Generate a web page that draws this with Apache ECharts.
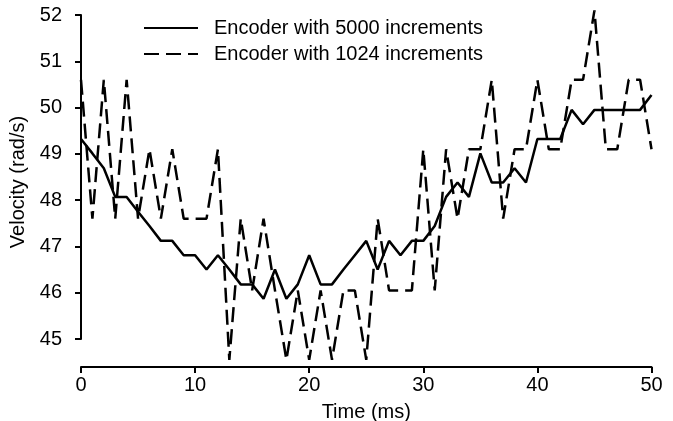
<!DOCTYPE html>
<html>
<head>
<meta charset="utf-8">
<script src="https://cdn.jsdelivr.net/npm/echarts@6/dist/echarts.min.js"></script>
<style>
  html, body { margin: 0; padding: 0; background: #fff; }
  #chart { width: 673px; height: 421px; }
</style>
</head>
<body>
<div id="chart"></div>
<script>
// Time (ms)
const times = [0,1,2,3,4,5,6,7,8,9,10,11,12,13,14,15,16,17,18,19,20,21,22,23,24,25,
  26,27,28,29,30,31,32,33,34,35,36,37,38,39,40,41,42,43,44,45,46,47,48,49,50];

// Encoder with 5000 increments (rad/s)
const enc5000 = [49.32,49.01,48.69,48.07,48.07,47.75,47.44,47.12,47.12,46.81,
  46.81,46.50,46.81,46.50,46.18,46.18,45.87,46.50,45.87,46.18,
  46.81,46.18,46.18,46.50,46.81,47.12,46.50,47.12,46.81,47.12,
  47.12,47.44,48.07,48.38,48.07,49.01,48.38,48.38,48.69,48.38,
  49.32,49.32,49.32,49.95,49.64,49.95,49.95,49.95,49.95,49.95,50.27];

// Encoder with 1024 increments (rad/s)
const enc1024 = [50.6,47.6,50.6,47.6,50.6,47.6,49.1,47.6,49.1,47.6,
  47.6,47.6,49.1,44.55,47.6,46.05,47.6,46.05,44.55,46.05,
  44.55,46.05,44.55,46.05,46.05,44.55,47.6,46.05,46.05,46.05,
  49.1,46.05,49.1,47.6,49.1,49.1,50.6,47.6,49.1,49.1,
  50.6,49.1,49.1,50.6,50.6,52.1,49.1,49.1,50.6,50.6,49.1];

const seriesNames = ['Encoder with 5000 increments', 'Encoder with 1024 increments'];
const xTicks = { min: 0, max: 50, interval: 10 };
const yTicks = { min: 45, max: 52, interval: 1 };

const FONT = '"Liberation Sans", Arial, Helvetica, sans-serif';
const chart = echarts.init(document.getElementById('chart'), null, { renderer: 'canvas' });

const axisCommon = {
  axisLine: { show: true, lineStyle: { color: '#000', width: 2 } },
  axisTick: { show: true, length: 6, lineStyle: { color: '#000', width: 2 } },
  splitLine: { show: false },
  nameLocation: 'middle'
};

chart.setOption({
  animation: false,
  backgroundColor: '#fff',
  textStyle: { fontFamily: FONT, color: '#000' },
  grid: { left: 81, right: 21.5, top: 15, bottom: 82, containLabel: false, outerBoundsMode: 'none' },
  legend: {
    orient: 'vertical',
    left: 143,
    top: 18,
    padding: 0,
    itemWidth: 54,
    itemHeight: 14,
    itemGap: 6,
    itemStyle: { color: 'rgba(0,0,0,0)', borderWidth: 0, opacity: 0 },
    textStyle: { color: '#000', fontSize: 20, fontFamily: FONT, padding: [0, 0, 0, 11] },
    data: seriesNames
  },
  xAxis: Object.assign({}, axisCommon, {
    type: 'value',
    min: xTicks.min, max: xTicks.max, interval: xTicks.interval,
    offset: 28,
    name: 'Time (ms)',
    nameGap: 35,
    nameTextStyle: { color: '#000', fontSize: 20, fontFamily: FONT },
    axisLabel: { color: '#000', fontSize: 20, fontFamily: FONT, margin: 8 }
  }),
  yAxis: Object.assign({}, axisCommon, {
    type: 'value',
    min: yTicks.min, max: yTicks.max, interval: yTicks.interval,
    offset: 8,
    name: 'Velocity (rad/s)',
    nameGap: 43,
    nameTextStyle: { color: '#000', fontSize: 20, fontFamily: FONT, padding: [0, 10, 0, 0] },
    axisLabel: { color: '#000', fontSize: 20, fontFamily: FONT, margin: 11 }
  }),
  series: [
    {
      name: seriesNames[0],
      type: 'line',
      symbol: 'none',
      clip: false,
      data: times.map((t, i) => [t, enc5000[i]]),
      itemStyle: { color: '#000' },
      lineStyle: { color: '#000', width: 2.5, type: 'solid' }
    },
    {
      name: seriesNames[1],
      type: 'line',
      symbol: 'none',
      clip: false,
      data: times.map((t, i) => [t, enc1024[i]]),
      itemStyle: { color: '#000' },
      lineStyle: { color: '#000', width: 2.5, type: [15, 7] }
    }
  ]
});
</script>
</body>
</html>
